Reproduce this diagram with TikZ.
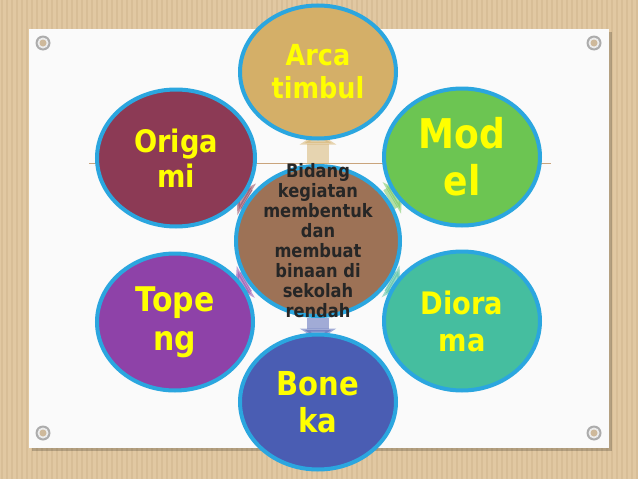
\documentclass[tikz,border=0pt]{standalone}
\usepackage{fontspec}
\setmainfont{DejaVu Sans}
\newfontfamily\bubblefont[FakeStretch=0.88]{DejaVu Sans}
\usepackage{tikz}
\usetikzlibrary{shapes.geometric,arrows.meta}

\definecolor{cardboard}{HTML}{E1C8A2}
\definecolor{stripe}{HTML}{D8BE97}
\definecolor{cardrule}{HTML}{C9A47C}
\definecolor{ringblue}{HTML}{2BA6DF}
\definecolor{arcac}{HTML}{D4AF68}
\definecolor{origamic}{HTML}{8C3A55}
\definecolor{modelc}{HTML}{6CC552}
\definecolor{ctrc}{HTML}{9D7256}
\definecolor{topengc}{HTML}{8E42A8}
\definecolor{dioramac}{HTML}{45BE9F}
\definecolor{bonekac}{HTML}{4A5DB3}
\definecolor{labelyellow}{HTML}{FFFF00}

\pgfdeclarelayer{bg}
\pgfdeclarelayer{arr}
\pgfsetlayers{bg,arr,main}

\begin{document}
\begin{tikzpicture}[x=1pt,y=-1pt]
\tikzstyle{bubble}=[ellipse,draw=ringblue,line width=4pt,inner sep=0pt]
\tikzstyle{ytext}=[text=labelyellow,align=center,inner sep=0pt]
\tikzstyle{ctext}=[text=black!85,align=center,inner sep=0pt,font=\bubblefont\bfseries\fontsize{18.5}{20}\selectfont]
\tikzstyle{blockarr}=[line width=22pt,opacity=.5,-{Triangle[width=36pt,length=12pt]},shorten >=-8pt]
\useasboundingbox (0,0) rectangle (638,479);

% slide background, card and screws
\begin{pgfonlayer}{bg}
\fill[cardboard] (0,0) rectangle (638,479);
\foreach \x in {2,7,...,638}
	\draw[stripe,line width=1.5pt] (\x,0) -- (\x,479);
\fill[black,opacity=.2] (32,32) rectangle (612,451);
\fill[white!96!gray] (29,29) rectangle (609,448);
\draw[cardrule,line width=1pt] (89,163) -- (551,163);
\foreach \p in {(43,43),(594,43),(43,433),(594,433)}{
	\fill[gray!65] \p circle (7.5pt);
	\fill[gray!15] \p circle (5.5pt);
	\fill[cardboard!80!gray] \p circle (3.5pt);
}
\end{pgfonlayer}

% bubbles
\node[bubble,fill=ctrc,minimum width=164pt,minimum height=150pt] (ctr) at (318,241) {};
\node[bubble,fill=arcac,minimum width=156pt,minimum height=133pt] (arca) at (318,72) {};
\node[bubble,fill=origamic,minimum width=158pt,minimum height=137pt] (origami) at (176,158) {};
\node[bubble,fill=modelc,minimum width=156pt,minimum height=137pt] (model) at (462,157) {};
\node[bubble,fill=topengc,minimum width=156pt,minimum height=137pt] (topeng) at (175,322) {};
\node[bubble,fill=dioramac,minimum width=156pt,minimum height=139pt] (diorama) at (462,321) {};
\node[bubble,fill=bonekac,minimum width=156pt,minimum height=135pt] (boneka) at (318,402) {};

% labels
\node[ctext] (ctr-t) at (ctr) {Bidang\\kegiatan\\membentuk\\dan\\membuat\\binaan di\\sekolah\\rendah};
\node[ytext,font=\bubblefont\bfseries\fontsize{29}{33}\selectfont] (arca-t) at (arca) {Arca\\timbul};
\node[ytext,font=\bubblefont\bfseries\fontsize{31}{35}\selectfont] (origami-t) at (origami) {Origa\\mi};
\node[ytext,font=\bubblefont\bfseries\fontsize{41}{47}\selectfont] (model-t) at (model) {Mod\\el};
\node[ytext,font=\bubblefont\bfseries\fontsize{34}{39}\selectfont] (topeng-t) at (topeng) {Tope\\ng};
\node[ytext,font=\bubblefont\bfseries\fontsize{31}{37}\selectfont] (diorama-t) at (diorama) {Diora\\ma};
\node[ytext,font=\bubblefont\bfseries\fontsize{33}{37}\selectfont] (boneka-t) at (boneka) {Bone\\ka};

% arrows, mostly hidden behind the bubbles
\begin{pgfonlayer}{arr}
\draw[blockarr,arcac] (ctr) -- (arca);
\draw[blockarr,origamic] (ctr) -- (origami);
\draw[blockarr,modelc] (ctr) -- (model);
\draw[blockarr,topengc] (ctr) -- (topeng);
\draw[blockarr,dioramac] (ctr) -- (diorama);
\draw[blockarr,bonekac] (ctr) -- (boneka);
\end{pgfonlayer}
\end{tikzpicture}
\end{document}
